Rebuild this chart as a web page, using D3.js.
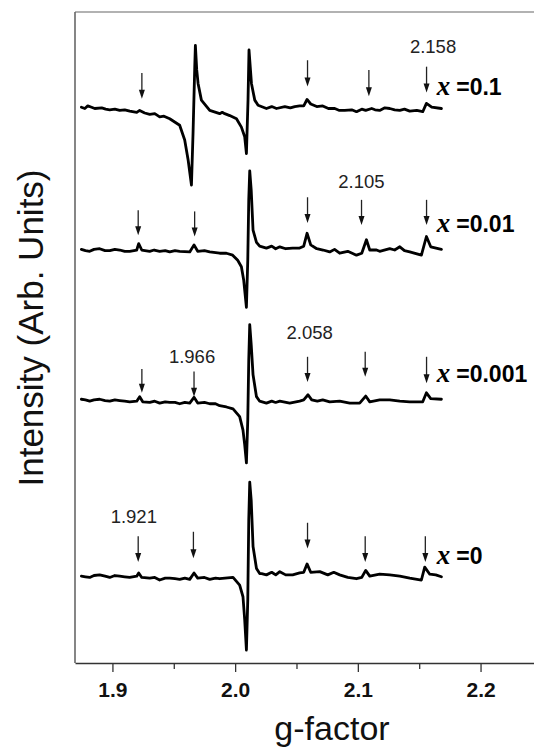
<!DOCTYPE html>
<html>
<head>
<meta charset="utf-8">
<script src="https://cdn.jsdelivr.net/npm/d3@7"></script>
<style>
  body { margin: 0; background: #fff; }
  svg { display: block; }
</style>
</head>
<body>
<div id="chart"></div>
<script>
// sample labels (x value) and vertical offsets of each spectrum (arb. units)
const samples = ['0.1', '0.01', '0.001', '0'];
const offsets = [86.4, 64.2, 40.9, 13.5];

// spectra: [g-factor, intensity relative to the trace baseline]
const specX01 = [
  [1.8747, 0.0], [1.8775, -0.2], [1.8799, 0.2], [1.8830, 0.0], [1.8856, -0.2], [1.8913, -0.1], [1.8945, -0.3],
  [1.8978, -0.4], [1.9020, -0.3], [1.9059, -0.5], [1.9100, -0.4], [1.9141, -0.6], [1.9198, -0.8], [1.9222, -0.5],
  [1.9263, -0.9], [1.9304, -1.1], [1.9345, -1.0], [1.9385, -1.5], [1.9420, -1.4], [1.9467, -1.8],
  [1.9548, -2.8], [1.9589, -5.1], [1.9617, -8.2], [1.9644, -12.1], [1.9657, -4.0], [1.9671, 6.3],
  [1.9676, 9.6], [1.9687, 5.8], [1.9698, 3.7], [1.9725, 1.1], [1.9793, -0.5], [1.9874, -1.0],
  [1.9895, -0.8], [1.9915, -1.0], [1.9956, -1.3], [2.0011, -1.8], [2.0051, -3.1], [2.0078, -4.6],
  [2.0092, -7.2], [2.0105, 1.1], [2.0113, 8.9], [2.0133, 3.7], [2.0160, 1.1], [2.0187, 0.3],
  [2.0255, -0.2], [2.0298, 0.1], [2.0337, -0.2], [2.0405, 0.1], [2.0450, -0.1], [2.0486, 0.1],
  [2.0526, 0.2], [2.0559, 0.2], [2.0586, 1.2], [2.0616, 0.5], [2.0665, 0.1], [2.0714, 0.2],
  [2.0760, -0.2], [2.0812, -0.2], [2.0850, -0.5], [2.0893, -0.5], [2.0950, -0.4], [2.0989, -0.7],
  [2.1032, -0.3], [2.1064, -0.5], [2.1113, -0.2], [2.1140, -0.4], [2.1178, -0.5], [2.1220, -0.1],
  [2.1260, -0.2], [2.1300, -0.4], [2.1342, -0.5], [2.1380, -0.3], [2.1423, -0.6], [2.1480, -0.5],
  [2.1529, -0.7], [2.1559, 0.6], [2.1602, 0.0], [2.1681, -0.2]
];
const specX001 = [
  [1.8747, 0.1], [1.8780, -0.1], [1.8815, -0.2], [1.8850, 0.1], [1.8896, 0.2], [1.8940, -0.1],
  [1.8978, -0.1], [1.9020, 0.1], [1.9059, 0.0], [1.9100, -0.2], [1.9141, -0.2], [1.9198, 0.0],
  [1.9214, 1.0], [1.9239, 0.0], [1.9304, -0.2], [1.9340, 0.0], [1.9385, -0.2], [1.9430, -0.1],
  [1.9467, -0.3], [1.9510, -0.1], [1.9548, -0.2], [1.9630, -0.3], [1.9665, 0.8], [1.9695, -0.2],
  [1.9750, -0.1], [1.9793, -0.3], [1.9874, -0.5], [1.9929, -0.5], [1.9980, -0.8], [2.0021, -1.6],
  [2.0051, -2.6], [2.0070, -4.7], [2.0092, -8.9], [2.0103, -1.6], [2.0111, 7.8], [2.0119, 12.3],
  [2.0131, 9.3], [2.0146, 3.1], [2.0174, 1.2], [2.0200, 0.6], [2.0255, 0.3], [2.0298, 0.6],
  [2.0330, 0.2], [2.0364, 0.5], [2.0412, 0.2], [2.0469, 0.3], [2.0526, 0.3], [2.0559, 0.6],
  [2.0586, 2.6], [2.0616, 0.8], [2.0665, 0.2], [2.0716, 0.0], [2.0771, -0.3], [2.0810, 0.1],
  [2.0852, -0.5], [2.0918, -0.2], [2.0989, -0.8], [2.1032, -0.5], [2.1070, 1.6], [2.1097, 0.0],
  [2.1152, 0.0], [2.1178, -0.2], [2.1260, 0.2], [2.1300, 0.0], [2.1342, 0.5], [2.1380, -0.1],
  [2.1423, -0.3], [2.1518, -0.8], [2.1559, 2.1], [2.1594, 0.5], [2.1681, 0.1]
];
const specX0001 = [
  [1.8747, 0.1], [1.8780, 0.0], [1.8815, -0.2], [1.8850, 0.0], [1.8896, 0.1], [1.8940, -0.1],
  [1.8978, -0.2], [1.9020, 0.0], [1.9059, -0.1], [1.9100, -0.2], [1.9141, -0.3], [1.9198, -0.2],
  [1.9222, 0.5], [1.9247, -0.3], [1.9304, -0.4], [1.9345, -0.2], [1.9385, -0.5], [1.9430, -0.3],
  [1.9467, -0.4], [1.9510, -0.4], [1.9548, -0.6], [1.9590, -0.4], [1.9630, -0.5], [1.9665, 0.4],
  [1.9695, -0.5], [1.9750, -0.4], [1.9793, -0.6], [1.9840, -0.6], [1.9874, -0.9], [1.9929, -1.1],
  [1.9983, -1.4], [2.0037, -2.6], [2.0064, -4.7], [2.0078, -7.0], [2.0092, -9.8], [2.0103, -3.1],
  [2.0111, 6.2], [2.0119, 11.7], [2.0131, 8.6], [2.0146, 3.9], [2.0174, 0.5], [2.0200, -0.2],
  [2.0255, -0.5], [2.0298, -0.2], [2.0330, -0.4], [2.0364, -0.2], [2.0445, -0.5], [2.0526, -0.2],
  [2.0559, 0.0], [2.0594, 0.8], [2.0624, 0.0], [2.0670, -0.2], [2.0714, 0.0], [2.0771, -0.3],
  [2.0852, -0.2], [2.0934, -0.5], [2.1015, -0.5], [2.1064, 0.6], [2.1097, -0.3], [2.1178, 0.0],
  [2.1260, 0.0], [2.1342, -0.2], [2.1423, -0.3], [2.1529, -0.3], [2.1559, 1.1], [2.1594, 0.2],
  [2.1681, 0.1]
];
const specX0 = [
  [1.8747, 0.0], [1.8780, -0.1], [1.8815, -0.2], [1.8850, 0.1], [1.8896, 0.2], [1.8940, 0.0],
  [1.8978, -0.2], [1.9020, 0.1], [1.9059, 0.0], [1.9100, -0.1], [1.9141, -0.2], [1.9198, 0.0],
  [1.9214, 0.5], [1.9239, -0.2], [1.9304, -0.3], [1.9345, -0.2], [1.9385, -0.6], [1.9430, -0.3],
  [1.9467, -0.3], [1.9510, -0.4], [1.9548, -0.5], [1.9590, -0.3], [1.9630, -0.5], [1.9665, 0.5],
  [1.9695, -0.3], [1.9750, -0.2], [1.9793, -0.5], [1.9840, -0.3], [1.9874, -0.4], [1.9983, -0.2],
  [2.0037, -1.4], [2.0064, -3.2], [2.0078, -6.8], [2.0092, -11.5], [2.0103, -3.7], [2.0111, 8.7],
  [2.0119, 14.6], [2.0131, 11.8], [2.0146, 4.6], [2.0174, 1.2], [2.0200, 0.4], [2.0216, 0.4],
  [2.0255, 0.2], [2.0298, 0.6], [2.0331, 0.2], [2.0364, 0.7], [2.0412, 0.2], [2.0469, 0.2],
  [2.0526, 0.5], [2.0559, 0.6], [2.0586, 1.9], [2.0616, 0.6], [2.0690, 0.7], [2.0755, 0.2],
  [2.0804, 0.6], [2.0852, 0.2], [2.0918, -0.2], [2.0989, -0.4], [2.1032, -0.2], [2.1064, 0.9],
  [2.1097, 0.0], [2.1178, 0.3], [2.1260, 0.2], [2.1342, 0.0], [2.1423, -0.3], [2.1518, -0.6],
  [2.1545, 1.4], [2.1586, 0.3], [2.1635, 0.2], [2.1681, -0.1]
];
const spectra = [specX01, specX001, specX0001, specX0];

// axis ticks
const xTicks = [1.9, 2.0, 2.1, 2.2];
const xMinorTicks = [1.95, 2.05, 2.15, 2.25];

// arrows: [g, top, tip] (absolute intensity units)
const arrows = [
  [1.924, 91.7, 87.7], [2.059, 93.7, 89.6], [2.109, 92.2, 88.1], [2.156, 92.7, 88.7],
  [1.921, 70.4, 66.5], [1.967, 70.2, 66.3], [2.059, 72.4, 68.4], [2.103, 72.0, 68.1], [2.156, 72.0, 68.1],
  [1.924, 45.7, 42.0], [1.9665, 45.3, 41.4], [2.059, 47.6, 43.7], [2.106, 48.4, 44.5], [2.156, 47.6, 43.5],
  [1.921, 19.7, 15.7], [1.966, 20.4, 16.3], [2.059, 21.8, 17.8], [2.106, 19.7, 15.7], [2.155, 19.7, 15.7]
];

// g-value annotations: text, g, intensity of baseline
const peakText = ['2.158', '2.105', '2.058', '1.966', '1.921'];
const peakG = [2.1613, 2.1029, 2.0608, 1.9649, 1.9174];
const peakV = [94.8, 73.8, 50.3, 46.7, 21.7];

// sample label anchors
const sampleLabelG = 2.1643;
const sampleLabelV = [88.3, 67.0, 43.7, 15.4];

const width = 534;
const height = 751;
const margin = { top: 12, left: 75, bottom: 663 };

const svg = d3.select('#chart').append('svg')
  .attr('width', width)
  .attr('height', height);

// scales
const xScale = d3.scaleLinear().domain([1.8695, 2.25]).range([margin.left, 541.9]);
const yScale = d3.scaleLinear().domain([0, 101.2]).range([margin.bottom, margin.top]);

// frame: left + top
svg.append('line')
  .attr('x1', margin.left).attr('x2', margin.left)
  .attr('y1', margin.top).attr('y2', margin.bottom)
  .attr('stroke', '#444').attr('stroke-width', 1.3);
svg.append('line')
  .attr('x1', margin.left).attr('x2', width)
  .attr('y1', margin.top).attr('y2', margin.top)
  .attr('stroke', '#666').attr('stroke-width', 1.2);

// x axis
const xAxis = svg.append('g')
  .attr('class', 'axis axis-x')
  .attr('transform', `translate(0, ${margin.bottom})`)
  .call(d3.axisBottom(xScale).tickValues(xTicks).tickSize(9).tickSizeOuter(0).tickFormat(d3.format('.1f')));
xAxis.select('.domain').attr('stroke', '#333').attr('stroke-width', 1.3);
xAxis.selectAll('.tick line').attr('stroke', '#333').attr('stroke-width', 1.3);
xAxis.selectAll('.tick text')
  .attr('y', 19)
  .attr('fill', '#111')
  .style('font-family', 'Arial, "Liberation Sans", sans-serif')
  .style('font-size', '21px')
  .style('font-weight', 'bold');

const xMinor = svg.append('g')
  .attr('transform', `translate(0, ${margin.bottom})`)
  .call(d3.axisBottom(xScale).tickValues(xMinorTicks).tickSize(6).tickSizeOuter(0).tickFormat(''));
xMinor.select('.domain').remove();
xMinor.selectAll('.tick line').attr('stroke', '#333').attr('stroke-width', 1.3);

// axis titles
svg.append('text')
  .attr('x', 332).attr('y', 740)
  .attr('text-anchor', 'middle')
  .attr('fill', '#111')
  .style('font-family', 'Arial, "Liberation Sans", sans-serif')
  .style('font-size', '34px')
  .text('g-factor');
svg.append('text')
  .attr('transform', 'rotate(-90)')
  .attr('x', -328).attr('y', 43)
  .attr('text-anchor', 'middle')
  .attr('fill', '#111')
  .style('font-family', 'Arial, "Liberation Sans", sans-serif')
  .style('font-size', '35px')
  .text('Intensity (Arb. Units)');

// spectra
const chart = svg.append('g').attr('class', 'paths');
spectra.forEach((spec, i) => {
  const line = d3.line()
    .x(d => xScale(d[0]))
    .y(d => yScale(d[1] + offsets[i]));
  chart.append('path')
    .attr('class', 'line')
    .attr('d', line(spec))
    .attr('fill', 'none')
    .attr('stroke', '#000')
    .attr('stroke-width', 2.8)
    .attr('stroke-linejoin', 'round')
    .attr('stroke-linecap', 'round');
});

// arrows
const arrowG = svg.append('g').attr('class', 'arrows');
arrows.forEach(a => {
  const x = xScale(a[0]);
  const y0 = yScale(a[1]);
  const y1 = yScale(a[2]);
  arrowG.append('line')
    .attr('x1', x).attr('x2', x)
    .attr('y1', y0).attr('y2', y1 - 6)
    .attr('stroke', '#222').attr('stroke-width', 1.3);
  arrowG.append('path')
    .attr('d', `M${x - 3},${y1 - 9} L${x + 3},${y1 - 9} L${x},${y1} Z`)
    .attr('fill', '#111');
});

// g-value annotations
peakText.forEach((t, i) => {
  svg.append('text')
    .attr('x', xScale(peakG[i]))
    .attr('y', yScale(peakV[i]))
    .attr('text-anchor', 'middle')
    .attr('fill', '#222')
    .style('font-family', 'Arial, "Liberation Sans", sans-serif')
    .style('font-size', '18.5px')
    .text(t);
});

// sample labels
samples.forEach((s, i) => {
  const t = svg.append('text')
    .attr('x', xScale(sampleLabelG))
    .attr('y', yScale(sampleLabelV[i]))
    .attr('fill', '#000');
  t.append('tspan')
    .style('font-family', '"Times New Roman", "Liberation Serif", serif')
    .style('font-style', 'italic')
    .style('font-weight', 'bold')
    .style('font-size', '27px')
    .text('x');
  t.append('tspan')
    .attr('dx', 6)
    .style('font-family', 'Arial, "Liberation Sans", sans-serif')
    .style('font-weight', 'bold')
    .style('font-size', '23px')
    .text('=' + s);
});
</script>
</body>
</html>
